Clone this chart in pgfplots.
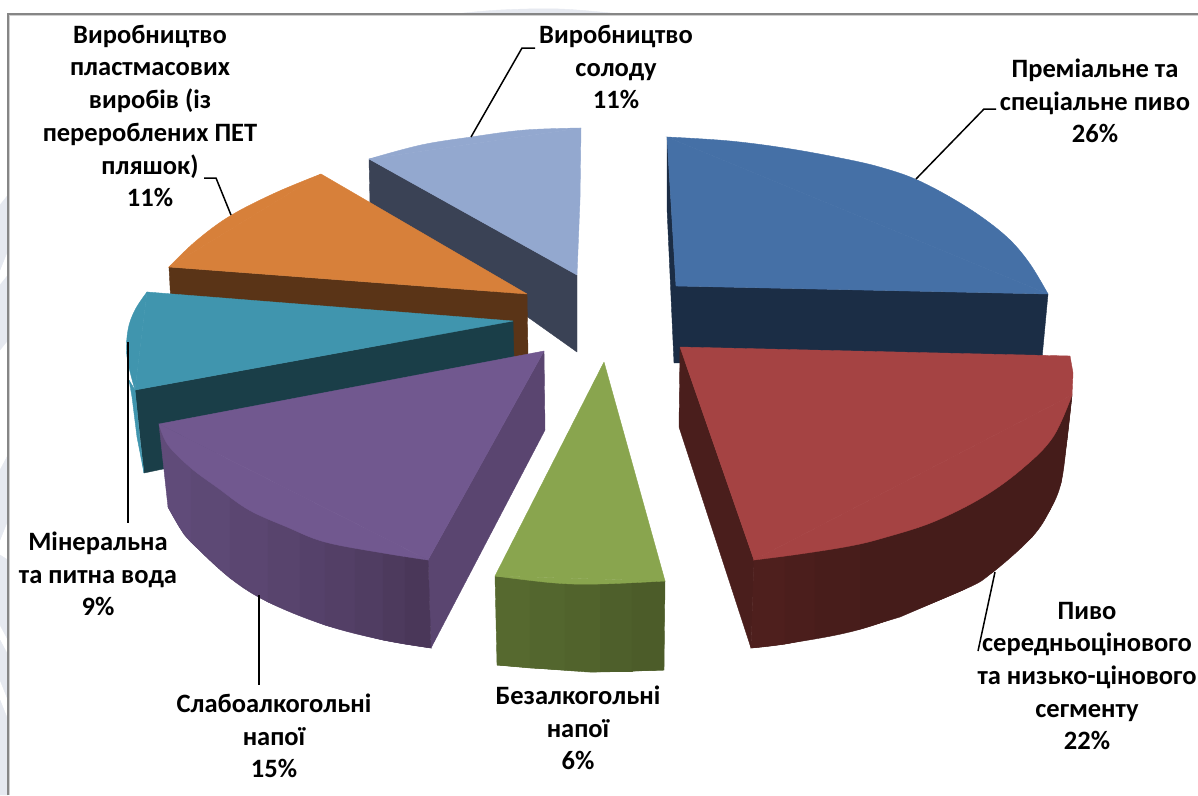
\documentclass[border=0pt]{standalone}
\usepackage{pgfplots}
\pgfplotsset{compat=1.18}
\usepackage{fontspec}
\setmainfont{Carlito}
\definecolor{blueTop}{HTML}{4570A6}
\definecolor{blueSide}{HTML}{1B2D45}
\definecolor{redTop}{HTML}{A54343}
\definecolor{redA}{HTML}{4E1F1D}
\definecolor{redB}{HTML}{4B1E1C}
\definecolor{redC}{HTML}{481D1B}
\definecolor{redD}{HTML}{451C1A}
\definecolor{redEdge}{HTML}{4A1E1C}
\definecolor{greenTop}{HTML}{89A54E}
\definecolor{ga}{HTML}{56692F}
\definecolor{gz}{HTML}{495928}
\colorlet{g1}{gz!0!ga}
\colorlet{g2}{gz!20!ga}
\colorlet{g3}{gz!40!ga}
\colorlet{g4}{gz!60!ga}
\colorlet{g5}{gz!80!ga}
\definecolor{purpleTop}{HTML}{71588F}
\definecolor{purpleEdge}{HTML}{5A4570}
\definecolor{pa}{HTML}{604B79}
\definecolor{pz}{HTML}{4A3759}
\colorlet{p1}{pz!0!pa}
\colorlet{p2}{pz!12!pa}
\colorlet{p3}{pz!24!pa}
\colorlet{p4}{pz!36!pa}
\colorlet{p5}{pz!48!pa}
\colorlet{p6}{pz!60!pa}
\colorlet{p7}{pz!72!pa}
\colorlet{p8}{pz!86!pa}
\colorlet{p9}{pz!100!pa}
\definecolor{tealTop}{HTML}{4095AE}
\definecolor{tealSide}{HTML}{1A3E48}
\definecolor{orangeTop}{HTML}{D7803A}
\definecolor{orangeSide}{HTML}{5A3417}
\definecolor{skyTop}{HTML}{93A8CF}
\definecolor{skySide}{HTML}{3A4255}
\definecolor{frameGray}{HTML}{868686}
\definecolor{frameSoft}{HTML}{CFCFCF}
\definecolor{wash}{HTML}{E6E9F0}
% flat polygon, curved segment between an arc and its chord, leader line
\newcommand{\face}[2]{\addplot[fill=#1,draw=#1,line width=0.4pt,line join=round,mark=none] coordinates {#2} -- cycle;}
\newcommand{\arcface}[2]{\addplot[smooth,tension=0.6,fill=#1,draw=#1,line width=0.4pt,mark=none] coordinates {#2} -- cycle;}
\newcommand{\leader}[1]{\addplot[black,line width=1.5pt,mark=none] coordinates {#1};}
\tikzset{lab/.style={font=\fontsize{26.5}{32.7}\selectfont\bfseries, align=center, text=black, inner sep=0pt}}
\begin{document}
\begin{tikzpicture}
\useasboundingbox (0,0) rectangle (1198pt,795pt);
\begin{axis}[
  at={(0,0)}, anchor=south west,
  scale only axis, width=1198pt, height=795pt,
  xmin=0, xmax=1198, ymin=0, ymax=795, y dir=reverse,
  hide axis, clip=true,
]
% pale backdrop showing outside the frame
\face{wash}{(0,205) (8,195) (8,250) (0,270)}
\face{wash}{(0,285) (8,275) (8,340) (0,350)}
\face{wash}{(0,470) (8,455) (8,520) (0,540)}
\face{wash}{(0,555) (8,560) (8,640) (0,625)}
\face{wash}{(0,640) (8,655) (8,700) (0,680)}
\face{wash}{(0,700) (8,720) (8,795) (0,795)}
\arcface{wash}{(455,14) (500,10) (560,9) (620,14)}
% frame of the chart area
\addplot[frameSoft,line width=1pt,mark=none] coordinates {(9.5,795) (9.5,15.5) (1198,15.5)};
\addplot[frameGray,line width=1.6pt,mark=none] coordinates {(8,795) (8,14) (1198,14)};

% malt slice
\face{skySide}{(369,159) (577,275) (577,352) (370,205)}
\face{skyTop}{(369,159) (581,128) (580,200) (577,275)}
\arcface{skyTop}{(369,159) (421,145) (471,137) (525,130) (581,128)}

% plastics slice
\face{orangeSide}{(169,267) (527,294) (528,356) (514,362) (171,305)}
\face{orangeTop}{(321,174) (527,294) (169,267)}
\arcface{orangeTop}{(321,174) (275,193) (230,216) (196,241) (169,267)}

% mineral water slice
\face{tealSide}{(135,390) (513,321) (514,362) (163,469) (144,473)}
\face{tealTop}{(147,292) (513,321) (135,390)}
\arcface{tealTop}{(147,292) (135,310) (128,330) (127,357) (135,390)}
\face{tealTop}{(129,380) (132,397) (137,437) (144,473) (140,440) (135,390)}

% low-alcohol slice: flat cut, shaded rim, top
\face{purpleEdge}{(544,351) (545,430) (431,648) (428,560)}
\arcface{p5}{(168,507) (180,528) (191,542) (230,578) (268,602) (325,625) (383,640) (431,648)}
\face{p1}{(159,424) (191,465) (191,542) (180,528) (168,507)}
\face{p2}{(191,465) (230,493) (230,578) (191,542)}
\face{p3}{(230,493) (268,516) (268,602) (230,578)}
\face{p4}{(268,516) (300,529) (300,615) (268,602)}
\face{p5}{(300,529) (325,539) (325,625) (300,615)}
\face{p6}{(325,539) (355,545) (355,633) (325,625)}
\face{p7}{(355,545) (383,550) (383,640) (355,633)}
\face{p8}{(383,550) (405,554) (405,644) (383,640)}
\face{p9}{(405,554) (428,557) (431,648) (405,644)}
\face{purpleTop}{(544,351) (428,560) (159,424)}
\arcface{purpleTop}{(159,424) (168,445) (191,468) (218,488) (249,510) (287,527) (325,542) (383,553) (428,560)}

% soft drinks slice
\arcface{g3}{(497,665) (574,671) (600,672) (664,670)}
\face{g1}{(495,576) (530,578) (530,668) (497,665)}
\face{g2}{(530,578) (565,580) (565,670) (530,668)}
\face{g3}{(565,580) (600,580) (600,671) (565,670)}
\face{g4}{(600,580) (632,580) (632,671) (600,671)}
\face{g5}{(632,580) (665,581) (664,670) (632,671)}
\face{greenTop}{(604,362) (665,581) (495,576)}
\arcface{greenTop}{(495,576) (555,583) (600,584) (665,581)}

% premium beer slice
\face{blueSide}{(667,137) (676,286) (1048,294) (1042,358) (674,363) (667,208)}
\face{blueTop}{(667,137) (1048,294) (676,286)}
\arcface{blueTop}{(667,137) (730,141) (791,149) (850,160) (883,168) (915,179) (950,197) (983,218) (1010,240) (1030,264) (1048,294)}

% mid and low price beer slice
\face{redEdge}{(680,347) (754,560) (751,648) (679,427)}
\arcface{redD}{(751,648) (791,643) (868,627) (963,590) (993,572) (1032,537) (1050,510) (1061,483) (1067,440) (1072,395)}
\face{redD}{(860,535) (1072,395) (1067,440) (1061,483) (1050,510) (1032,537) (993,572) (963,590) (900,617) (860,629)}
\face{redA}{(754,558) (785,552) (785,644) (751,648)}
\face{redB}{(785,552) (815,546) (815,638) (785,644)}
\face{redC}{(815,546) (860,535) (860,629) (815,638)}
\face{redTop}{(680,347) (1070,356) (1073,373) (1072,395) (754,560)}
\arcface{redTop}{(754,560) (800,554) (850,546) (883,538) (933,522) (983,497) (1023,468) (1053,437) (1072,395)}

% leader lines
\leader{(471,137) (522,48) (535,48)}
\leader{(231,215) (216,178) (204,178)}
\leader{(128,342) (128,523)}
\leader{(259,595) (259,685)}
\leader{(916,179) (984,109) (996,109)}
\leader{(995,572) (978,651)}

% data labels
\node[lab] at (axis cs:150,116) {Виробництво\\пластмасових\\виробів (із\\перероблених ПЕТ\\пляшок)\\11\%};
\node[lab] at (axis cs:616,67) {Виробництво\\солоду\\11\%};
\node[lab] at (axis cs:1095,101) {Преміальне та\\спеціальне пиво\\26\%};
\node[lab] at (axis cs:1087,676) {Пиво\\середньоцінового\\та низько-цінового\\сегменту\\22\%};
\node[lab] at (axis cs:578,728) {Безалкогольні\\напої\\6\%};
\node[lab] at (axis cs:274,736) {Слабоалкогольні\\напої\\15\%};
\node[lab] at (axis cs:98,574) {Мінеральна\\та питна вода\\9\%};
\end{axis}
\end{tikzpicture}
\end{document}
